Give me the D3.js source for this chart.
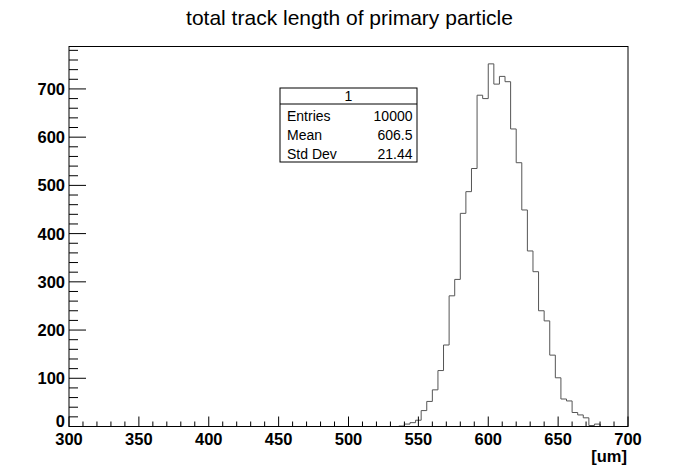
<!DOCTYPE html>
<html>
<head>
<meta charset="utf-8">
<script src="https://cdn.jsdelivr.net/npm/d3@7"></script>
<style>
  body { margin: 0; background: #fff; }
  text { font-family: "Liberation Sans", Arial, Helvetica, sans-serif; }
</style>
</head>
<body>
<script>
// histogram: 100 bins of 4 um from 300 to 700, only non-empty range stored
const binLow = 300;
const binWidth = 4;
const nBins = 100;
const firstFilled = 536; // lower edge of first non-empty bin
const counts = [1, 5, 8, 13, 33, 52, 76, 116, 169, 271, 305, 442, 487, 535, 687, 680,
  752, 710, 726, 715, 617, 547, 449, 364, 321, 240, 219, 148, 101, 57, 53, 29, 24, 18, 2, 5];

const xTicks = [300, 350, 400, 450, 500, 550, 600, 650, 700];
const yTicks = [0, 100, 200, 300, 400, 500, 600, 700];

const title = 'total track length of primary particle';
const xTitle = '[um]';
const statsName = '1';
const statsLabels = ['Entries', 'Mean', 'Std Dev'];
const statsValues = ['10000', '606.5', '21.44'];

const W = 698, H = 475;
const frame = { left: 69, right: 628, top: 46.5, bottom: 426.5 };

const svg = d3.select('body').append('svg')
  .attr('width', W)
  .attr('height', H);

const x = d3.scaleLinear().domain([300, 700]).range([frame.left, frame.right]);
const y = d3.scaleLinear().domain([0, 788]).range([frame.bottom, frame.top]);

// full bin contents
const firstIdx = (firstFilled - binLow) / binWidth;
const bins = d3.range(nBins).map(i => {
  const k = i - firstIdx;
  return { lo: binLow + i * binWidth, hi: binLow + (i + 1) * binWidth,
    v: (k >= 0 && k < counts.length) ? counts[k] : 0 };
});

// step outline, like ROOT draws it
const pts = [[binLow, 0]];
bins.forEach(b => { pts.push([b.lo, b.v]); pts.push([b.hi, b.v]); });
pts.push([binLow + nBins * binWidth, 0]);

svg.append('path')
  .datum(pts)
  .attr('fill', 'none')
  .attr('stroke', '#555')
  .attr('stroke-width', 1)
  .attr('d', d3.line().x(d => x(d[0])).y(d => y(d[1])));

// frame
svg.append('rect')
  .attr('x', frame.left)
  .attr('y', frame.top)
  .attr('width', frame.right - frame.left)
  .attr('height', frame.bottom - frame.top)
  .attr('fill', 'none')
  .attr('stroke', '#000')
  .attr('stroke-width', 1);

// x axis ticks (major 50, minor 10)
const xAxis = svg.append('g');
const xMinor = d3.range(300, 701, 10).filter(v => v % 50 !== 0);
xAxis.selectAll('line.minor').data(xMinor).enter().append('line')
  .attr('x1', d => x(d)).attr('x2', d => x(d))
  .attr('y1', frame.bottom).attr('y2', frame.bottom - 5)
  .attr('stroke', '#000');
xAxis.selectAll('line.major').data(xTicks).enter().append('line')
  .attr('x1', d => x(d)).attr('x2', d => x(d))
  .attr('y1', frame.bottom).attr('y2', frame.bottom - 10)
  .attr('stroke', '#000');
xAxis.selectAll('text').data(xTicks).enter().append('text')
  .attr('x', d => x(d))
  .attr('y', 444.5)
  .attr('text-anchor', 'middle')
  .attr('font-size', 16.5)
  .attr('font-weight', 'bold')
  .text(d => d);

// y axis ticks (major 100, minor 20)
const yAxis = svg.append('g');
const yMinor = d3.range(0, 788, 20).filter(v => v % 100 !== 0);
yAxis.selectAll('line.minor').data(yMinor).enter().append('line')
  .attr('x1', frame.left).attr('x2', frame.left + 9)
  .attr('y1', d => y(d)).attr('y2', d => y(d))
  .attr('stroke', '#000');
yAxis.selectAll('line.major').data(yTicks).enter().append('line')
  .attr('x1', frame.left).attr('x2', frame.left + 17)
  .attr('y1', d => y(d)).attr('y2', d => y(d))
  .attr('stroke', '#000');
// the lowest label is lifted a little so it clears the x labels, as ROOT does
yAxis.selectAll('text').data(yTicks).enter().append('text')
  .attr('x', 65)
  .attr('y', d => y(d) + (d === 0 ? 0 : 6))
  .attr('text-anchor', 'end')
  .attr('font-size', 16.5)
  .attr('font-weight', 'bold')
  .text(d => d);

// axis title
svg.append('text')
  .attr('x', 627)
  .attr('y', 461.5)
  .attr('text-anchor', 'end')
  .attr('font-size', 16.5)
  .attr('font-weight', 'bold')
  .text(xTitle);

// title
svg.append('text')
  .attr('x', 349.5)
  .attr('y', 25)
  .attr('text-anchor', 'middle')
  .attr('font-size', 21)
  .text(title);

// stats box
const box = { x: 280, y: 88, w: 137, h: 74 };
const stats = svg.append('g');
stats.append('rect')
  .attr('x', box.x).attr('y', box.y)
  .attr('width', box.w).attr('height', box.h)
  .attr('fill', '#fff')
  .attr('stroke', '#000');
stats.append('line')
  .attr('x1', box.x).attr('x2', box.x + box.w)
  .attr('y1', 104).attr('y2', 104)
  .attr('stroke', '#000');
stats.append('text')
  .attr('x', box.x + box.w / 2)
  .attr('y', 101)
  .attr('text-anchor', 'middle')
  .attr('font-size', 14)
  .text(statsName);
statsLabels.forEach((lab, i) => {
  stats.append('text')
    .attr('x', 287)
    .attr('y', 120.5 + i * 19)
    .attr('font-size', 14)
    .text(lab);
  stats.append('text')
    .attr('x', 412.5)
    .attr('y', 120.5 + i * 19)
    .attr('text-anchor', 'end')
    .attr('font-size', 14)
    .text(statsValues[i]);
});
</script>
</body>
</html>
